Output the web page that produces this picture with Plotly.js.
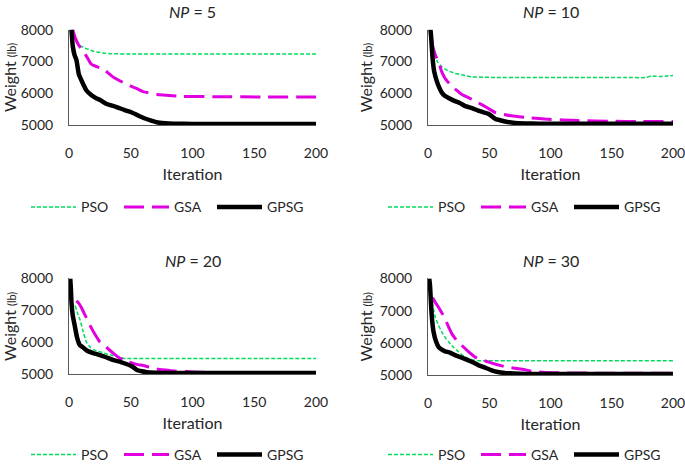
<!DOCTYPE html>
<html><head><meta charset="utf-8">
<script src="https://cdn.plot.ly/plotly-3.0.1.min.js"></script>
<style>html,body{margin:0;padding:0;background:#fff}#chart{width:685px;height:471px}</style>
</head><body><div id="chart"></div>
<script>
// ---- data ----
const panelNP = ['5', '10', '20', '30'];
const seriesNames = ['PSO', 'GSA', 'GPSG'];
const xTicks = [0, 50, 100, 150, 200];
const yTicks = [5000, 6000, 7000, 8000];

const np5PsoIter   = [2, 5, 8, 13, 20, 27, 35, 50, 100, 150, 200];
const np5PsoWeight = [8000, 7700, 7520, 7420, 7320, 7270, 7245, 7235, 7235, 7235, 7235];
const np5GsaIter   = [3, 5, 8, 12, 15.6, 18, 25, 28, 36, 46, 55, 60, 71, 92, 120, 160, 200];
const np5GsaWeight = [8000, 7750, 7500, 7300, 7070, 6920, 6800, 6760, 6510, 6300, 6150, 6060, 5970, 5910, 5900, 5890, 5890];
const np5GpsgIter   = [2, 3, 4.5, 6, 8, 10, 12, 14, 18, 22, 25, 30, 38, 45, 50, 55, 60, 66, 71, 78, 85, 100, 200];
const np5GpsgWeight = [8000, 7500, 7200, 7050, 6600, 6420, 6250, 6100, 5950, 5850, 5800, 5680, 5580, 5480, 5420, 5330, 5240, 5160, 5100, 5070, 5055, 5045, 5045];

const np10PsoIter   = [3, 4.6, 8, 11.4, 16, 22, 29, 36, 45, 55, 80, 120, 160, 178, 182, 185, 190, 195, 200];
const np10PsoWeight = [7400, 7240, 6980, 6830, 6720, 6630, 6570, 6520, 6510, 6500, 6500, 6500, 6500, 6500, 6550, 6540, 6530, 6550, 6560];
const np10GsaIter   = [3, 3.8, 6, 8.7, 11, 14, 19.5, 24, 27.7, 34, 41, 48, 55, 62, 68, 80, 95.5, 110, 122.6, 150, 175, 200];
const np10GsaWeight = [7700, 7490, 7200, 6980, 6700, 6470, 6220, 6080, 5970, 5850, 5710, 5560, 5400, 5340, 5300, 5250, 5200, 5170, 5150, 5130, 5120, 5120];
const np10GpsgIter   = [2, 2.5, 3.2, 3.8, 5, 7.3, 9, 11.4, 14, 16.8, 22, 26, 30, 36, 41, 46, 49.4, 52, 55, 59, 63, 68, 74, 85, 95.5, 120, 200];
const np10GpsgWeight = [8000, 7800, 7400, 7080, 6700, 6370, 6200, 6020, 5920, 5860, 5760, 5700, 5610, 5540, 5460, 5400, 5360, 5290, 5200, 5160, 5120, 5090, 5070, 5060, 5050, 5050, 5050];

const np20PsoIter   = [5, 7, 9, 11, 14, 17, 20, 25, 30, 36, 40, 44, 46, 100, 150, 200];
const np20PsoWeight = [7150, 6900, 6700, 6400, 6010, 5850, 5760, 5700, 5640, 5580, 5540, 5500, 5490, 5490, 5490, 5490];
const np20GsaIter   = [6, 8, 10, 13, 17, 21, 25, 30, 36, 40, 44, 48, 52, 56, 60, 66, 71, 78, 85, 95, 106, 130, 200];
const np20GsaWeight = [7300, 7220, 7090, 6850, 6530, 6250, 6010, 5850, 5650, 5530, 5440, 5390, 5340, 5300, 5270, 5210, 5165, 5130, 5100, 5080, 5060, 5050, 5050];
const np20GpsgIter   = [1, 1.5, 2, 3, 4.6, 6.5, 8.7, 11, 14, 19, 25, 30, 36, 42, 47, 50, 53, 55, 59, 63, 70, 79, 100, 200];
const np20GpsgWeight = [8000, 7700, 7250, 6850, 6530, 6150, 5910, 5850, 5750, 5670, 5600, 5530, 5440, 5380, 5310, 5260, 5190, 5130, 5090, 5060, 5045, 5035, 5035, 5035];

const np30PsoIter   = [3.3, 6, 8.5, 11.4, 14, 17, 21, 25, 29, 33, 37, 41, 45, 100, 150, 200];
const np30PsoWeight = [7250, 6790, 6550, 6330, 6170, 6020, 5860, 5720, 5600, 5510, 5470, 5450, 5450, 5450, 5450, 5450];
const np30GsaIter   = [3.8, 6, 8.7, 11, 14, 17, 19.5, 23, 27.7, 33, 38.5, 44, 49, 56, 63, 68, 74, 80, 85, 95.5, 110, 150, 200];
const np30GsaWeight = [7400, 7250, 7100, 6950, 6740, 6480, 6280, 6100, 5920, 5730, 5560, 5480, 5410, 5330, 5260, 5230, 5200, 5160, 5120, 5080, 5070, 5060, 5060];
const np30GpsgIter   = [1, 1.6, 2.2, 2.7, 3.5, 4.6, 6.5, 8.7, 11, 14, 18, 22, 27, 33, 37, 41, 46, 52, 57, 63, 70, 79, 100, 200];
const np30GpsgWeight = [8000, 7800, 7400, 7050, 6650, 6330, 6050, 5870, 5800, 5740, 5700, 5620, 5550, 5460, 5390, 5310, 5240, 5150, 5100, 5070, 5050, 5035, 5035, 5035];

// ---- styling ----
const FONT = 'Lato, "Open Sans", sans-serif';
const TXT = '#262626';
const styles = {
  PSO:  {color: '#00DD5E', width: 1.5, dash: '4px,2px'},
  GSA:  {color: '#E000E0', width: 3,   dash: '20px,8px'},
  GPSG: {color: '#000000', width: 4.5, dash: 'solid'}
};

const panelData = [
  [[np5PsoIter, np5PsoWeight], [np5GsaIter, np5GsaWeight], [np5GpsgIter, np5GpsgWeight]],
  [[np10PsoIter, np10PsoWeight], [np10GsaIter, np10GsaWeight], [np10GpsgIter, np10GpsgWeight]],
  [[np20PsoIter, np20PsoWeight], [np20GsaIter, np20GsaWeight], [np20GpsgIter, np20GpsgWeight]],
  [[np30PsoIter, np30PsoWeight], [np30GsaIter, np30GsaWeight], [np30GpsgIter, np30GpsgWeight]]
];

const W = 685, H = 471;
// panel pixel boxes (plot area): left, right, top, bottom
const boxes = [
  [69, 316, 30, 127],
  [428, 673, 30, 127],
  [69, 316, 282, 379],
  [428, 673, 282, 380]
];
const titleY = [12, 12, 264, 264];
const legendY = [210, 210, 461, 461];
const legendX = [31, 388, 31, 388];

const traces = [];
const layout = {
  width: W, height: H,
  margin: {l: 0, r: 0, t: 0, b: 0},
  paper_bgcolor: '#fff', plot_bgcolor: '#fff',
  font: {family: FONT, color: TXT, size: 14},
  showlegend: true,
  annotations: []
};

panelData.forEach((series, p) => {
  const i = p + 1;
  const xa = 'xaxis' + (i === 1 ? '' : i), ya = 'yaxis' + (i === 1 ? '' : i);
  const xr = 'x' + (i === 1 ? '' : i), yr = 'y' + (i === 1 ? '' : i);
  const lg = 'legend' + (i === 1 ? '' : i);
  const [l, r, t, b] = boxes[p];
  series.forEach((s, k) => {
    const name = seriesNames[k];
    traces.push({
      type: 'scatter', mode: 'lines', x: s[0], y: s[1], name: name,
      xaxis: xr, yaxis: yr, legend: lg,
      line: {color: styles[name].color, width: styles[name].width, dash: styles[name].dash,
             shape: 'spline', smoothing: 0.4},
      hoverinfo: 'skip'
    });
  });
  layout[xa] = {
    domain: [l / W, r / W], anchor: yr, range: [0, 200],
    tickvals: xTicks, ticks: 'outside', ticklen: 15, tickcolor: 'rgba(0,0,0,0)',
    ticklabeloverflow: 'allow',
    showline: true, linecolor: '#595959', linewidth: 1,
    showgrid: false, zeroline: false,
    tickfont: {size: 14, family: FONT, color: TXT},
    title: {text: 'Iteration', font: {size: 16, family: FONT, color: TXT}, standoff: 8}
  };
  layout[ya] = {
    domain: [1 - b / H, 1 - t / H], anchor: xr, range: [5000, 8000],
    tickvals: yTicks, ticks: 'outside', ticklen: 12, tickcolor: 'rgba(0,0,0,0)',
    ticklabeloverflow: 'allow',
    showline: true, linecolor: '#595959', linewidth: 1,
    showgrid: false, zeroline: false,
    tickfont: {size: 14, family: FONT, color: TXT},
    title: {text: 'Weight <span style="font-size:11px">(lb)</span>', font: {size: 16, family: FONT, color: TXT}, standoff: 3}
  };
  layout[lg] = {
    orientation: 'h', x: (legendX[p] - 5) / W, xanchor: 'left',
    y: 1 - legendY[p] / H, yanchor: 'middle',
    font: {size: 14, family: FONT, color: TXT},
    bgcolor: 'rgba(0,0,0,0)', itemwidth: 45,
    entrywidth: 33, entrywidthmode: 'pixels'
  };
  layout.annotations.push({
    xref: 'paper', yref: 'paper', x: (l + r) / 2 / W, y: 1 - titleY[p] / H,
    xanchor: 'center', yanchor: 'middle', showarrow: false,
    text: '<i>NP</i> = ' + panelNP[p], font: {size: 16, family: FONT, color: TXT}
  });
});

Plotly.newPlot('chart', traces, layout, {displayModeBar: false, staticPlot: true});
</script>
</body></html>
